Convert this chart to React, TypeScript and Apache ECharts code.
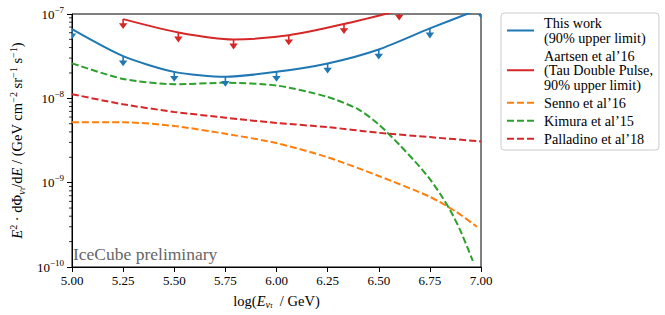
import React, { useEffect, useRef } from 'react';
import * as echarts from 'echarts';

const FONT = "'Liberation Serif', 'Times New Roman', serif";

const C_BLUE = '#1f77b4';
const C_ORANGE = '#ff7f0e';
const C_GREEN = '#2ca02c';
const C_RED = '#d62728';

// This work (90% upper limit)
const thisWorkX = [5.0, 5.25, 5.5, 5.75, 6.0, 6.25, 6.5, 6.75, 7.0];
const thisWorkY = [6.6e-8, 3.16e-8, 2.06e-8, 1.8e-8, 2.06e-8, 2.59e-8, 3.8e-8, 6.75e-8, 1.16e-7];

// Aartsen et al'16 (Tau Double Pulse, 90% upper limit)
const aartsenX = [5.25, 5.52, 5.79, 6.06, 6.33, 6.6];
const aartsenY = [8.7e-8, 6.05e-8, 5.0e-8, 5.6e-8, 7.6e-8, 1.1e-7];

// Senno et al'16
const sennoX = [5.0, 5.25, 5.5, 5.75, 6.0, 6.25, 6.5, 6.75, 6.88, 6.98];
const sennoY = [5.2e-9, 5.2e-9, 4.7e-9, 3.8e-9, 2.95e-9, 2.0e-9, 1.2e-9, 6.8e-10, 4.5e-10, 3.0e-10];

// Kimura et al'15
const kimuraX = [5.0, 5.25, 5.5, 5.75, 6.0, 6.25, 6.4, 6.5, 6.6, 6.7, 6.75, 6.8, 6.85, 6.9, 6.96];
const kimuraY = [2.6e-8, 1.7e-8, 1.47e-8, 1.53e-8, 1.42e-8, 1.04e-8, 7.4e-9, 4.9e-9, 2.83e-9, 1.55e-9, 1.1e-9, 7.4e-10, 4.68e-10, 2.68e-10, 1.18e-10];

// Palladino et al'18
const palladinoX = [5.0, 5.25, 5.5, 5.75, 6.0, 6.25, 6.5, 6.75, 7.0];
const palladinoY = [1.12e-8, 8.5e-9, 6.9e-9, 5.9e-9, 5.1e-9, 4.56e-9, 3.9e-9, 3.47e-9, 3.08e-9];

const xTicks = { min: 5.0, max: 7.0, interval: 0.25 };
const yRange = { min: 1e-10, max: 1e-7 };
const yDecades = [-10, -9, -8];
const minorMultipliers = [2, 3, 4, 5, 6, 7, 8, 9];

const legendNames = [
  'This work\n(90% upper limit)',
  "Aartsen et al’16\n(Tau Double Pulse,\n90% upper limit)",
  "Senno et al’16",
  "Kimura et al’15",
  "Palladino et al’18",
];

const zip = (xs: number[], ys: number[]) => xs.map((x, i) => [x, ys[i]]);

function lineSeries(name: string, xs: number[], ys: number[], color: string, dashed: boolean) {
  return {
    type: 'line',
    name,
    data: zip(xs, ys),
    smooth: 0.25,
    symbol: 'none',
    showSymbol: false,
    clip: true,
    lineStyle: { color, width: 2, type: dashed ? [7, 3] : 'solid', cap: 'butt' },
    itemStyle: { color },
    z: 3,
  };
}

function arrowSeries(id: string, xs: number[], ys: number[], color: string) {
  return {
    type: 'custom',
    id,
    data: zip(xs, ys),
    encode: { x: 0, y: 1 },
    clip: true,
    z: 4,
    renderItem: (params: any, api: any) => {
      const p = api.coord([api.value(0), api.value(1)]);
      return {
        type: 'group',
        children: [
          { type: 'rect', shape: { x: p[0] - 0.8, y: p[1], width: 1.6, height: 5 }, style: { fill: color } },
          {
            type: 'polygon',
            shape: { points: [[p[0] - 4.2, p[1] + 4.2], [p[0] + 4.2, p[1] + 4.2], [p[0], p[1] + 10]] },
            style: { fill: color },
          },
        ],
      };
    },
  };
}

export default function App() {
  const ref = useRef<HTMLDivElement>(null);
  useEffect(() => {
    if (!ref.current) return;
    const chart = echarts.init(ref.current, null, { renderer: 'svg' });

    const minorData: number[][] = [];
    yDecades.forEach((d) => minorMultipliers.forEach((m) => minorData.push([xTicks.min, m * Math.pow(10, d)])));

    const mk = (fs: number) => {
      const base = { fontFamily: FONT, fontSize: fs, lineHeight: 18, color: '#000' };
      return {
        base,
        rich: {
          n: { ...base },
          it: { ...base, fontStyle: 'italic' },
          sup: { fontFamily: FONT, fontSize: fs * 0.7, lineHeight: 9, verticalAlign: 'top', color: '#000' },
          sub: { fontFamily: FONT, fontSize: fs * 0.7, fontStyle: 'italic', lineHeight: 11, verticalAlign: 'bottom', color: '#000' },
          ssub: { fontFamily: FONT, fontSize: fs * 0.5, fontStyle: 'italic', lineHeight: 5, verticalAlign: 'bottom', color: '#000' },
        },
      };
    };
    const xn = mk(14.5);
    const yn = mk(14.5);

    chart.setOption({
      animation: false,
      backgroundColor: '#fff',
      grid: { left: 68, right: 184, top: 14, bottom: 48, show: true, borderColor: '#000', borderWidth: 1, backgroundColor: 'transparent' },
      legend: {
        orient: 'vertical',
        left: 501,
        top: 13,
        data: legendNames,
        itemWidth: 27,
        itemHeight: 10,
        itemGap: 3.5,
        padding: [3, 6, 4, 5],
        borderColor: '#cccccc',
        borderWidth: 1,
        borderRadius: 3,
        backgroundColor: '#fff',
        selectedMode: false,
        itemStyle: { color: 'rgba(0,0,0,0)', borderColor: 'rgba(0,0,0,0)', borderWidth: 0, opacity: 0 },
        textStyle: { fontFamily: FONT, fontSize: 14.2, lineHeight: 14.5, color: '#000', padding: [0, 0, 0, 5] },
      },
      xAxis: {
        type: 'value',
        min: xTicks.min,
        max: xTicks.max,
        interval: xTicks.interval,
        axisLine: { show: true, lineStyle: { color: '#000', width: 1 } },
        axisTick: { show: true, inside: false, length: 5, lineStyle: { color: '#000' } },
        splitLine: { show: false },
        axisLabel: {
          margin: 7,
          formatter: (v: number) => v.toFixed(2),
          fontFamily: FONT,
          fontSize: 13,
          color: '#000',
          showMinLabel: true,
          showMaxLabel: true,
        },
        name: '{n|log(}{it|E}{sub|ν}{ssub|τ}{n|  / GeV)}',
        nameLocation: 'middle',
        nameGap: 21,
        nameTextStyle: { ...xn.base, rich: xn.rich },
      },
      yAxis: {
        type: 'log',
        logBase: 10,
        min: yRange.min,
        max: yRange.max,
        axisLine: { show: true, lineStyle: { color: '#000', width: 1 } },
        axisTick: { show: true, inside: false, length: 5, lineStyle: { color: '#000' } },
        splitLine: { show: false },
        axisLabel: {
          margin: 8,
          formatter: (v: number) => {
            const e = Math.round(Math.log10(v));
            return `{b|10}{s|−${Math.abs(e)}}`;
          },
          rich: {
            b: { fontFamily: FONT, fontSize: 13, lineHeight: 18, color: '#000' },
            s: { fontFamily: FONT, fontSize: 9, lineHeight: 9, verticalAlign: 'top', color: '#000' },
          },
        },
        name: '{it|E}{sup|2}{n| · dΦ}{sub|ν}{ssub|τ}{n|/d}{it|E}{n| / (GeV cm}{sup|−2}{n| sr}{sup|−1}{n| s}{sup|−1}{n|)}',
        nameLocation: 'middle',
        nameRotate: 90,
        nameGap: 46,
        nameTextStyle: { ...yn.base, rich: yn.rich },
      },
      graphic: [
        {
          type: 'text',
          left: 73,
          top: 245,
          style: { text: 'IceCube preliminary', font: `17.5px ${FONT}`, fill: '#666666' },
          z: 10,
        },
      ],
      series: [
        lineSeries(legendNames[0], thisWorkX, thisWorkY, C_BLUE, false),
        lineSeries(legendNames[1], aartsenX, aartsenY, C_RED, false),
        lineSeries(legendNames[2], sennoX, sennoY, C_ORANGE, true),
        lineSeries(legendNames[3], kimuraX, kimuraY, C_GREEN, true),
        lineSeries(legendNames[4], palladinoX, palladinoY, C_RED, true),
        arrowSeries('arrowsThisWork', thisWorkX, thisWorkY, C_BLUE),
        arrowSeries('arrowsAartsen', aartsenX, aartsenY, C_RED),
        {
          type: 'custom',
          id: 'minorTicks',
          data: minorData,
          encode: { x: 0, y: 1 },
          clip: false,
          silent: true,
          renderItem: (params: any, api: any) => {
            const p = api.coord([api.value(0), api.value(1)]);
            return { type: 'line', shape: { x1: p[0] - 3, y1: p[1], x2: p[0], y2: p[1] }, style: { stroke: '#000', lineWidth: 0.8 } };
          },
        },
      ],
    });
    return () => chart.dispose();
  }, []);
  return <div ref={ref} style={{ position: 'absolute', left: 0, top: 0, width: 665, height: 315 }} />;
}
